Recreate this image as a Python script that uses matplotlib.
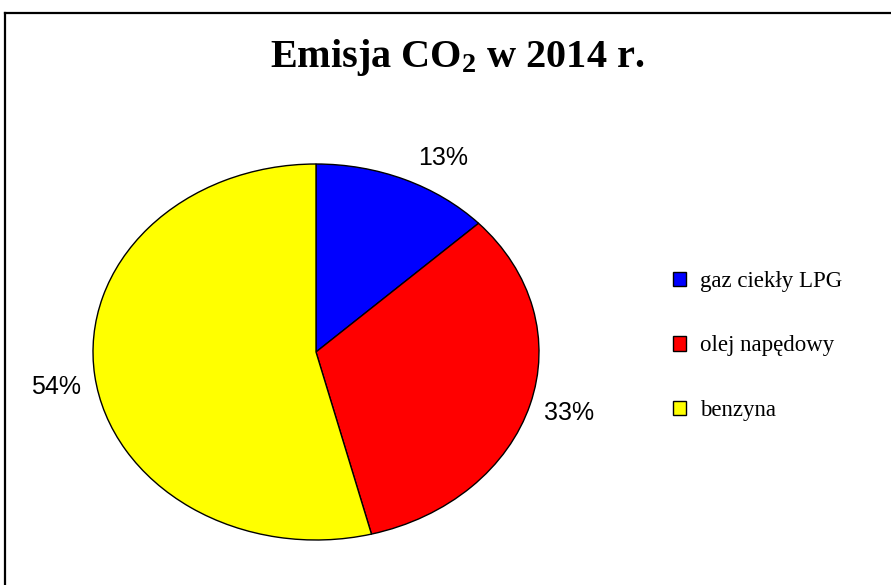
import matplotlib.pyplot as plt
import numpy as np
from matplotlib.patches import Patch
from matplotlib.lines import Line2D

# dane
labels = ['gaz ciekły LPG', 'olej napędowy', 'benzyna']
shares = [13, 33, 54]
colors = ['#0000ff', '#ff0000', '#ffff00']
title = 'Emisja CO$_2$ w 2014 r.'

plt.rcParams['mathtext.fontset'] = 'custom'
plt.rcParams['mathtext.rm'] = 'Liberation Serif:bold'
plt.rcParams['mathtext.bf'] = 'Liberation Serif:bold'
plt.rcParams['mathtext.default'] = 'bf'

W, H = 891, 585
fig = plt.figure(figsize=(W / 100, H / 100), dpi=100)

# ellipse: center (316,352), rx 223, ry 188 (pixels)
cx, cy, rx, ry = 316, 352, 223, 188
ax = fig.add_axes([(cx - rx) / W, (H - cy - ry) / H, 2 * rx / W, 2 * ry / H])
wedges, _ = ax.pie(shares, colors=colors, startangle=90, counterclock=False,
                   wedgeprops=dict(edgecolor='black', linewidth=1))
ax.set_aspect('auto')
ax.set_xlim(-1, 1)
ax.set_ylim(-1, 1)

# label placement (angles in degrees, like Excel puts them)
label_ang = [61, -16, -171]
for s, a in zip(shares, label_ang):
    t = np.deg2rad(a)
    ax.text(1.18 * np.cos(t), 1.18 * np.sin(t), f'{s}%', ha='center', va='center',
            fontsize=18, family='Liberation Sans', clip_on=False)

fig.text(457 / W, (H - 67) / H, title, ha='center', va='baseline',
         fontsize=29, family='Liberation Serif', weight='bold')

handles = [Patch(facecolor=c, edgecolor='black', linewidth=1) for c in colors]
fig.legend(handles, labels, loc='center left', bbox_to_anchor=(652 / W, (H - 346) / H),
           frameon=False, prop={'family': 'Liberation Serif', 'size': 16.5},
           handlelength=0.58, handleheight=0.58, handletextpad=0.6, labelspacing=1.9)

# chart frame
fig.add_artist(Line2D([5 / W, 5 / W], [0, (H - 12.5) / H], color='black', lw=1.6))
fig.add_artist(Line2D([5 / W, 1], [(H - 12.5) / H, (H - 12.5) / H], color='black', lw=1.6))

fig.savefig('out.png', dpi=100)
